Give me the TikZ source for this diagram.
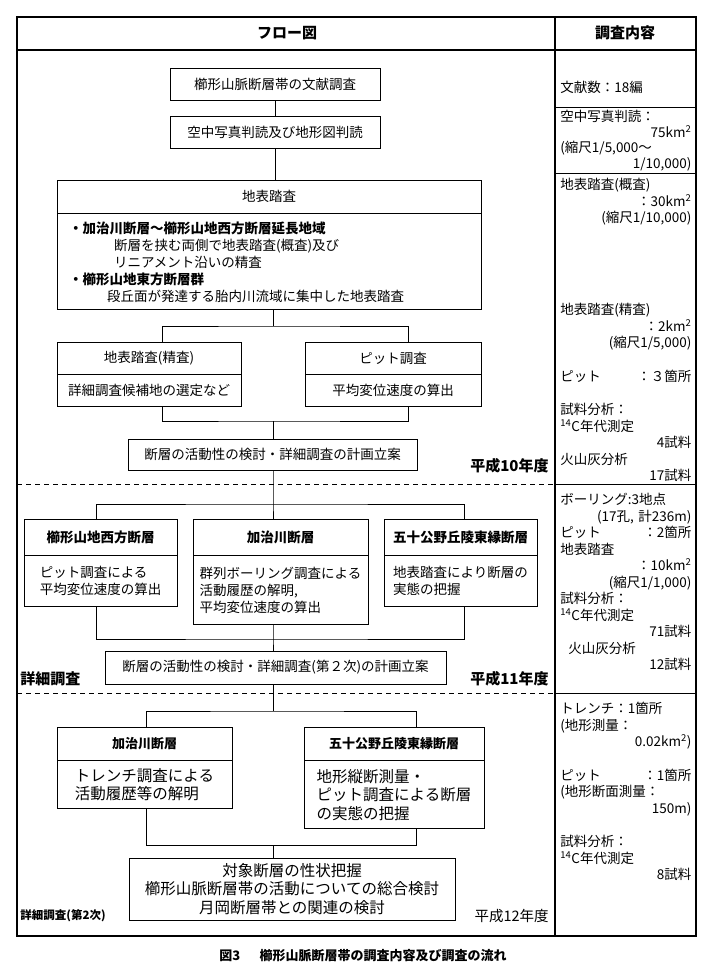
\documentclass[tikz,border=0pt]{standalone}
\usepackage{fontspec}
\setmainfont{Noto Sans CJK JP}
\usetikzlibrary{positioning}

\begin{document}
\begin{tikzpicture}[x=1pt, y=-1pt, line width=0.8pt,
    box/.style={draw, rectangle, inner sep=4pt, font=\fontsize{13.5}{17}\selectfont},
    head/.style={box, font=\bfseries\fontsize{13}{16}\selectfont},
    big/.style={box, font=\fontsize{15.5}{18.5}\selectfont},
    note/.style={anchor=north west, inner sep=0pt, text width=131pt, align=left, font=\fontsize{13.5}{16.5}\selectfont},
    yr/.style={inner sep=0pt, font=\bfseries\fontsize{15}{17}\selectfont}]
\useasboundingbox (0,0) rectangle (703,977);

% frame of the table
\draw[line width=1.2pt] (17,17) rectangle (696,936);
\draw[line width=1.2pt] (17,50) -- (696,50);
\draw[line width=1.2pt] (555,17) -- (555,936);
\draw (555,107) -- (696,107);
\draw (555,173) -- (696,173);
\draw (555,484) -- (696,484);
\draw (555,693) -- (696,693);
\draw[dash pattern=on 5pt off 4pt] (17,484) -- (555,484);
\draw[dash pattern=on 5pt off 4pt] (17,693) -- (555,693);

\node[yr] (flow) at (287,33) {フロー図};
\node[yr] (item) at (625,33) {調査内容};

% H10
\node[box, minimum width=210, minimum height=32] (lit) at (275,84) {櫛形山脈断層帯の文献調査};
\node[box, minimum width=210, minimum height=32] (air) at (275,132) {空中写真判読及び地形図判読};
\node[box, minimum width=424, minimum height=33] (shead) at (269,196.5) {地表踏査};
\node[box, below=0pt of shead, minimum height=96, text width=400, inner xsep=12pt, align=left] (sbody)
  {{\bfseries ・加治川断層～櫛形山地西方断層延長地域}\\
   \hspace*{45pt}断層を挟む両側で地表踏査(概査)及び\\
   \hspace*{45pt}リニアメント沿いの精査\\
   {\bfseries ・櫛形山地東方断層群}\\
   \hspace*{38pt}段丘面が発達する胎内川流域に集中した地表踏査};
\node[box, minimum width=184, minimum height=32] (dhead) at (149,358) {地表踏査(精査)};
\node[box, below=0pt of dhead, minimum width=184, minimum height=32] (dbody) {詳細調査候補地の選定など};
\node[box, minimum width=176, minimum height=32] (phead) at (393,358) {ピット調査};
\node[box, below=0pt of phead, minimum width=176, minimum height=32] (pbody) {平均変位速度の算出};
\node[box, minimum width=289, minimum height=31] (plan1) at (272.5,454.5) {断層の活動性の検討・詳細調査の計画立案};
\node[yr, anchor=east] (y10) at (549,466) {平成10年度};

% H11
\node[head, font=\bfseries\fontsize{13.5}{16}\selectfont, minimum width=153, minimum height=36] (whead) at (100.5,537) {櫛形山地西方断層};
\node[box, below=0pt of whead, minimum width=153, minimum height=51, align=left] (wbody) {ピット調査による\\平均変位速度の算出};
\node[head, font=\bfseries\fontsize{13.5}{16}\selectfont, minimum width=175, minimum height=36] (mhead) at (280.5,537) {加治川断層};
\node[box, below=0pt of mhead, minimum width=175, minimum height=69, align=left] (mbody) {群列ボーリング調査による\\活動履歴の解明,\\平均変位速度の算出};
\node[head, font=\bfseries\fontsize{13.5}{16}\selectfont, minimum width=153, minimum height=36] (ehead) at (460.5,537) {五十公野丘陵東縁断層};
\node[box, below=0pt of ehead, minimum width=153, minimum height=51, align=left] (ebody) {地表踏査により断層の\\実態の把握};
\node[box, minimum width=341, minimum height=33] (plan2) at (275.5,667.5) {断層の活動性の検討・詳細調査(第２次)の計画立案};
\node[yr, anchor=west] (det) at (20,679) {詳細調査};
\node[yr, anchor=east] (y11) at (549,679) {平成11年度};

% H12
\node[head, minimum width=175, minimum height=33] (khead) at (144.5,743.5) {加治川断層};
\node[big, below=0pt of khead, minimum width=175, minimum height=48, align=left] (kbody) {トレンチ調査による\\活動履歴等の解明};
\node[head, minimum width=180, minimum height=33] (ihead) at (394,743.5) {五十公野丘陵東縁断層};
\node[big, below=0pt of ihead, minimum width=180, minimum height=68, align=left] (ibody) {地形縦断測量・\\ピット調査による断層\\の実態の把握};
\node[big, minimum width=326, minimum height=62, align=center] (final) at (292,889)
  {対象断層の性状把握\\櫛形山脈断層帯の活動についての総合検討\\月岡断層帯との関連の検討};
\node[yr, anchor=west, font=\bfseries\fontsize{11.5}{14}\selectfont] (det2) at (20,916) {詳細調査(第2次)};
\node[yr, anchor=east, font=\fontsize{14.5}{17}\selectfont] (y12) at (549,916) {平成12年度};

% connectors
\coordinate (s1) at (273,326);
\coordinate (m1) at (273,421);
\coordinate (s2) at (273,504);
\coordinate (m2) at (273,639);
\coordinate (s3) at (273,711);
\coordinate (m3) at (273,845);
\draw (lit) -- (air);
\draw (air.south) -- (air.south |- shead.north);
\draw (sbody.south -| s1) -- (s1);
\draw ([xshift=13pt]dhead.north) |- (s1) -| ([xshift=15pt]phead.north);
\draw ([xshift=13pt]dbody.south) |- (m1) -| ([xshift=15pt]pbody.south);
\draw (m1) -- (m1 |- plan1.north);
\draw (plan1.south -| s2) -- (s2) -- (s2 |- mhead.north);
\draw ([xshift=-4pt]whead.north) |- (s2) -| ([xshift=4pt]ehead.north);
\draw ([xshift=-4pt]wbody.south) |- (m2) -| ([xshift=4pt]ebody.south);
\draw (mbody.south -| m2) -- (m2) -- (m2 |- plan2.north);
\draw (plan2.south -| s3) -- (s3);
\draw ([xshift=2pt]khead.north) |- (s3) -| ([xshift=22pt]ihead.north);
\draw ([xshift=2pt]kbody.south) |- (m3) -| ([xshift=22pt]ibody.south);
\draw (m3) -- (m3 |- final.north);

% right column
\node[note, anchor=west] (n1) at (560,87) {文献数：18編};
\node[note, font=\fontsize{13.5}{15.5}\selectfont] (n2) at (560,110) {空中写真判読：\\
  \mbox{}\hfill 75km\textsuperscript{2}\\
  (縮尺1/5,000～\\
  \mbox{}\hfill 1/10,000)};
\node[note] (n3) at (560,178) {地表踏査(概査)\\
  \mbox{}\hfill ：30km\textsuperscript{2}\\
  \mbox{}\hfill (縮尺1/10,000)};
\node[note] (n4) at (560,303) {地表踏査(精査)\\
  \mbox{}\hfill ：2km\textsuperscript{2}\\
  \mbox{}\hfill (縮尺1/5,000)};
\node[note, anchor=west] (n5) at (560,376) {ピット\hfill ：３箇所};
\node[note] (n6) at (560,403) {試料分析：\\
  \textsuperscript{14}C年代測定\\
  \mbox{}\hfill 4試料\\
  火山灰分析\\
  \mbox{}\hfill 17試料};
\node[note] (n7) at (560,493) {ボーリング:3地点\\
  \mbox{}\hfill (17孔, 計236m)\\
  ピット\hfill ：2箇所\\
  地表踏査\\
  \mbox{}\hfill ：10km\textsuperscript{2}\\
  \mbox{}\hfill (縮尺1/1,000)\\
  試料分析：\\
  \textsuperscript{14}C年代測定\\
  \mbox{}\hfill 71試料\\
  \hspace*{8pt}火山灰分析\\
  \mbox{}\hfill 12試料};
\node[note] (n8) at (560,702) {トレンチ：1箇所\\
  (地形測量：\\
  \mbox{}\hfill 0.02km\textsuperscript{2})\\[17pt]
  ピット\hfill ：1箇所\\
  (地形断面測量：\\
  \mbox{}\hfill 150m)\\[17pt]
  試料分析：\\
  \textsuperscript{14}C年代測定\\
  \mbox{}\hfill 8試料};

\node[yr, font=\bfseries\fontsize{13}{16}\selectfont] (cap) at (363,956) {図3\hspace{1.5em}櫛形山脈断層帯の調査内容及び調査の流れ};
\end{tikzpicture}
\end{document}
